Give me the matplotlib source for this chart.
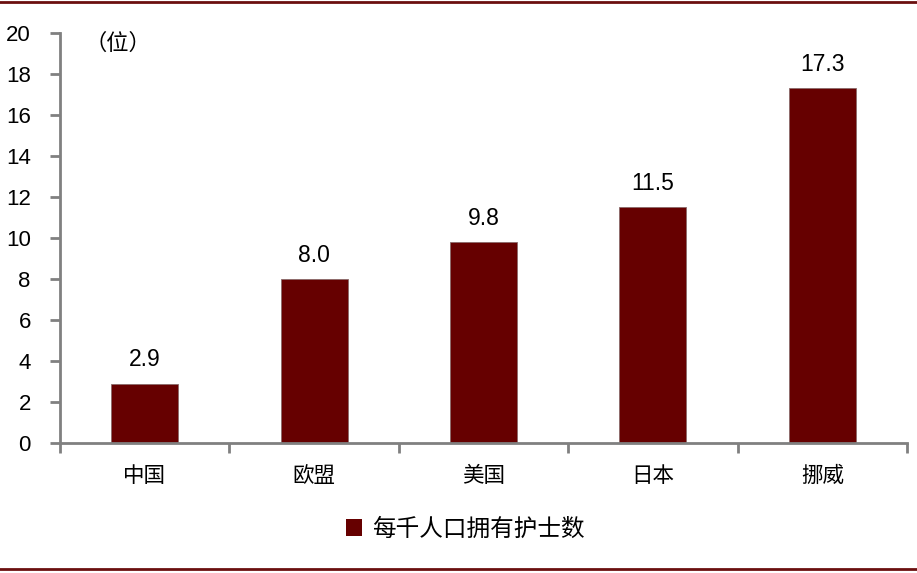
import matplotlib.pyplot as plt
from matplotlib.lines import Line2D
from matplotlib.patches import Patch

plt.rcParams['font.family'] = ['Liberation Sans', 'Noto Sans CJK SC', 'DejaVu Sans']

paises = ['中国', '欧盟', '美国', '日本', '挪威']
enfermeras = [2.9, 8.0, 9.8, 11.5, 17.3]
etiquetas_y = [0, 2, 4, 6, 8, 10, 12, 14, 16, 18, 20]

color_barra = '#660000'
color_eje = '#808080'

fig = plt.figure(figsize=(9.17, 5.73), dpi=100)
ax = fig.add_axes([60 / 917, 130 / 573, 847 / 917, 410 / 573])

posiciones = [i + 0.5 for i in range(len(paises))]
ax.bar(posiciones, enfermeras, width=0.395, color=color_barra, edgecolor='#8a6a6a', linewidth=0.6)

for x, v in zip(posiciones, enfermeras):
    ax.text(x, v + 0.6, f'{v:.1f}', ha='center', va='bottom', fontsize=16.5)

ax.set_xlim(0, len(paises))
ax.set_ylim(0, 20)
ax.set_yticks(etiquetas_y)
ax.set_yticklabels([str(t) for t in etiquetas_y], fontsize=16)

# ticks del eje x entre categorias, etiquetas en el centro
ax.set_xticks(range(len(paises) + 1))
ax.set_xticklabels([''] * (len(paises) + 1))
ax.set_xticks(posiciones, minor=True)
ax.set_xticklabels(paises, minor=True, fontsize=15.5, family=['Noto Sans CJK SC'])
ax.tick_params(axis='x', which='minor', length=0, pad=16)
ax.tick_params(axis='x', which='major', length=7, width=2, color=color_eje, direction='out')
ax.tick_params(axis='y', length=7, width=2, color=color_eje, direction='out', pad=14)

for lado in ['top', 'right']:
    ax.spines[lado].set_visible(False)
for lado in ['left', 'bottom']:
    ax.spines[lado].set_color(color_eje)
    ax.spines[lado].set_linewidth(2)

ax.text(0.34, 19.5, '（位）', fontsize=16, ha='center', va='center', family=['Noto Sans CJK SC'])

fig.legend(handles=[Patch(facecolor=color_barra, label='每千人口拥有护士数')],
           loc='center', bbox_to_anchor=(465 / 917, 1 - 529 / 573), frameon=False,
           prop={'family': 'Noto Sans CJK SC', 'size': 17},
           handlelength=0.7, handleheight=0.7, handletextpad=0.4)

# lineas decorativas superior e inferior
fig.add_artist(Line2D([0, 1], [1 - 2 / 573, 1 - 2 / 573], color='#6b0f0f', linewidth=2))
fig.add_artist(Line2D([0, 1], [1 - 569 / 573, 1 - 569 / 573], color='#6b0f0f', linewidth=2))

fig.savefig('out.png', dpi=100)
